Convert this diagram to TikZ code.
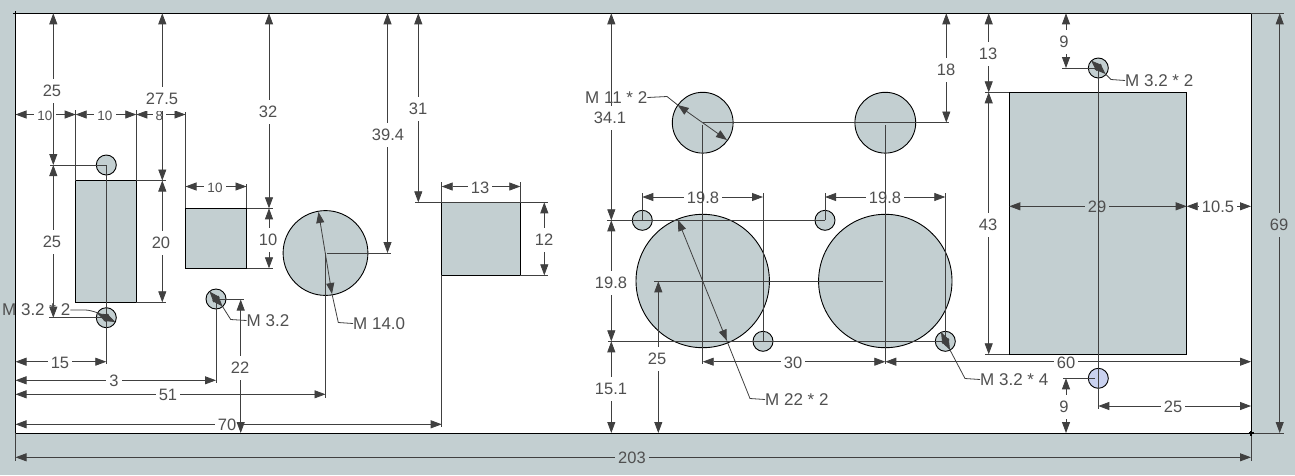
\documentclass[tikz,border=0pt]{standalone}
\usepackage{fontspec}
\setmainfont{Liberation Sans}
\usetikzlibrary{arrows.meta}
\definecolor{platecol}{HTML}{C3CFD1}
\definecolor{holecol}{HTML}{CAD2F0}
\definecolor{inkcol}{HTML}{404040}
\definecolor{textcol}{HTML}{505050}
\newcommand{\smalldim}[1]{{\fontsize{13.5}{15}\selectfont #1}}
\tikzset{
  outline/.style={draw=black,line width=0.9pt},
  dimline/.style={draw=inkcol,line width=0.8pt},
  dimarrow/.style={dimline,{Triangle[length=11pt,width=8pt]}-{Triangle[length=11pt,width=8pt]}},
  dimtext/.style={text=textcol,font=\fontsize{16.5}{18}\selectfont},
  hlabel/.style={dimtext,inner xsep=3pt,inner ysep=0pt,yshift=-1pt},
  vlabel/.style={dimtext,inner xsep=1pt,inner ysep=6pt,yshift=-1pt},
  leadtext/.style={dimtext,font=\fontsize{17}{18}\selectfont,inner sep=0pt,anchor=west}
}
\begin{document}
\begin{tikzpicture}[x=1pt,y=-1pt]
  % Plate edges
  \def\plL{15.5}
  \def\plR{1251}
  \def\plT{13.3}
  \def\plB{433}
  \useasboundingbox (0,0) rectangle (1295,475);
  \fill[platecol] (0,0) rectangle (1295,475);
  \draw[outline,fill=white] (\plL,\plT) rectangle (\plR,\plB);

  % Cut-outs
  \foreach \xa/\ya/\xb/\yb in {75.7/180.5/136.3/302.3, 185.5/208.3/246.5/268.3,
      441.7/202.3/520.3/275.3, 1009.3/92.3/1186.7/354.3}
    \draw[outline,fill=platecol] (\xa,\ya) rectangle (\xb,\yb);
  \foreach \cx/\cy/\rad in {106.3/165/10, 106.3/317.7/10, 216/299/10, 325.5/253/42.4,
      702.7/122.7/30.4, 885.3/122.7/30.4, 642.3/220.3/10, 825/220.3/10,
      763/341.3/10, 945.3/341.3/10, 702.7/281/66.7, 885.3/281/66.7, 1098.3/68/10}
    \draw[outline,fill=platecol] (\cx,\cy) circle (\rad pt);
  \draw[outline,fill=holecol] (1098.3,378.3) circle (10pt);

  % Horizontal dimensions
  \foreach \xa/\xb/\y/\lx/\txt/\col [count=\i] in {
      \plL/75.7/114.5/45/\smalldim{10}/white, 75.7/136.3/114.5/105/\smalldim{10}/white,
      136.3/185.5/114.5/159.5/\smalldim{8}/white,
      185.5/246.5/186.5/215/\smalldim{10}/white, 441.7/520.3/186.5/480/13/white,
      642.3/763/197/703/19.8/white, 825/945.3/197/885/19.8/white,
      1009.3/1186.7/206.3/1097/29/platecol, 1186.7/\plR/206.3/1218/10.5/white,
      \plL/106.3/361.7/60/15/white, \plL/216/380.3/114/3/white, \plL/325.5/394.3/168/51/white,
      \plL/441.7/424.3/227/70/white, 702.7/885.3/361.7/793/30/white,
      885.3/\plR/361.7/1066/60/white, 1098.3/\plR/406/1173/25/white,
      \plL/\plR/457.3/632/203/platecol} {
    \draw[dimarrow] (\xa,\y) -- (\xb,\y);
    \node[hlabel,fill=\col] (hdim\i) at (\lx,\y) {\txt};
  }

  % Vertical dimensions
  \foreach \x/\ya/\yb/\lx/\ly/\txt/\col [count=\i] in {
      53.3/\plT/165/52/90/25/white, 53.3/165/317.7/52/241/25/white,
      162.3/\plT/180.5/162/98/27.5/white, 162.3/180.5/302.3/161/242/20/white,
      269/\plT/208.3/268/111/32/white, 269/208.3/268.3/268/239/10/white,
      387.5/\plT/253/388/134/39.4/white, 240.7/299.5/\plB/240/367/22/white,
      418.3/\plT/202.3/418/108/31/white, 544.3/202.3/275.3/544/239/12/white,
      611.3/\plT/220.3/610/117/34.1/white, 611.3/220.3/341.3/611/282/19.8/white,
      611.3/341.3/\plB/611/388/15.1/white, 658.3/281.3/\plB/657/358/25/white,
      946.3/\plT/122.5/946/69/18/white, 988.7/\plT/92.3/988/53/13/white,
      988.7/92.3/354.3/988/224/43/white, 1066/\plT/68/1064/41/9/white,
      1066/378.3/\plB/1064/406/9/white, 1279.7/\plT/\plB/1279/224/69/platecol} {
    \draw[dimarrow] (\x,\ya) -- (\x,\yb);
    \node[vlabel,fill=\col] (vdim\i) at (\lx,\ly) {\txt};
  }

  % Extension lines
  \foreach \x/\ya/\yb in {75.7/110/180.5, 136.3/110/180.5, 185.5/112/208.3, 246.5/184/208.3,
      106.3/165/364, 216/299/383, 325.5/253/398, 441.7/182/202.3, 441.7/275.3/427,
      520.3/182/202.3, 642.3/193/220.3, 825/193/220.3, 763/193/341.3, 945.3/193/341.3,
      702.7/125/364, 885.3/125/364, 1098.3/68/409.3, \plL/\plB/461, \plR/\plB/461}
    \draw[dimline] (\x,\ya) -- (\x,\yb);
  \foreach \xa/\xb/\y in {50/106.3/165, 49/106.3/317.7, 136.3/166/180.5, 136.3/166/302.3,
      246.5/273/208.3, 246.5/273/268.3, 216/244/299.5, 327/391/253, 415/547.7/202.3,
      520.3/547.7/275.3, 607/825/220.3, 608/945.3/341.3, 703/948.7/122.5, 654/883/281.3,
      1062.3/1098.3/68, 1063/1095/378.3, 985/1009.3/92.3, 985/1009.3/354.3,
      \plR/1284/\plT, \plR/1284/\plB}
    \draw[dimline] (\xa,\y) -- (\xb,\y);

  % Hole callouts
  \node[leadtext] (msmallA) at (2,310) {M 3.2 * 2};
  \node[leadtext] (msmallB) at (246.5,320.5) {M 3.2};
  \node[leadtext] (mfourteen) at (353,323.5) {M 14.0};
  \node[leadtext] (meleven) at (585,97.5) {M 11 * 2};
  \node[leadtext] (mtwentytwo) at (765,399.5) {M 22 * 2};
  \node[leadtext] (msmallC) at (980,379.5) {M 3.2 * 4};
  \node[leadtext] (msmallD) at (1125,80.5) {M 3.2 * 2};

  \draw[dimarrow] (97.3,313.4) -- (115.3,322);
  \draw[dimline] (msmallA.east) -- +(15,0) .. controls +(6,0) and +(8,2) .. (97.3,313.4);
  \draw[dimarrow] (209.5,291.5) -- (222.5,306.5);
  \draw[dimline] (222.5,306.5) -- (230.7,319.5) -- (msmallB.west);
  \draw[dimarrow] (318.5,212) -- (332,294);
  \draw[dimline] (332,294) -- (338.3,322.5) -- (mfourteen.west);
  \draw[dimarrow] (677.7,105) -- (727,140);
  \draw[dimline] (677.7,105) -- (667,96.5) -- (meleven.east);
  \draw[dimarrow] (678,220) -- (726.8,340.7);
  \draw[dimline] (726.8,340.7) -- (750,398.5) -- (mtwentytwo.west);
  \draw[dimarrow] (941,332) -- (950,350);
  \draw[dimline] (950,350) -- (965,378.5) -- (msmallC.west);
  \draw[dimarrow] (1091,60.5) -- (1105.5,74);
  \draw[dimline] (1105.5,74) -- (1111,79.5) -- (msmallD.west);

  % Origin marks
  \draw[black,line width=1.2pt] (13,13.3) -- (18,13.3) (15.5,11) -- (15.5,16);
  \draw[black,line width=1.2pt] (1248.5,433) -- (1253.5,433) (1251,430.5) -- (1251,435.5);
\end{tikzpicture}
\end{document}
